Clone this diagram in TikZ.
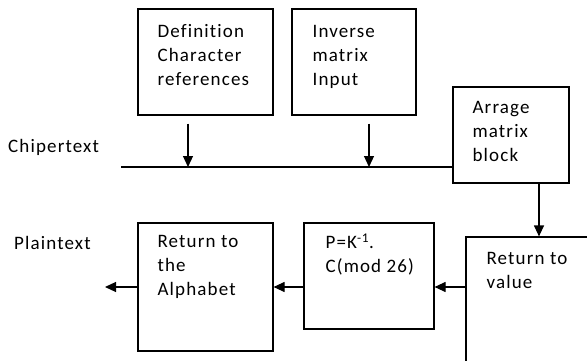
\documentclass[tikz,border=0pt]{standalone}
\usepackage{fontspec}
\setmainfont[LetterSpace=6, Ligatures=NoCommon]{Carlito}
\usetikzlibrary{positioning,calc,arrows.meta}

\tikzset{
	stage/.style={draw, rectangle, line width=1.2pt, inner sep=0pt},
	lbl/.style={inner sep=0pt, align=left, font=\fontsize{19}{24}\selectfont},
	flow/.style={line width=1.2pt, -{Triangle[length=11pt,width=10pt]}}
}

\begin{document}
\begin{tikzpicture}[x=1pt, y=-1pt]
	\clip (0,0) rectangle (587,361);
	% upper row
	\node[stage, minimum width=135pt, minimum height=106pt] (defn) at (205.5,62) {};
	\node[lbl, below right=16pt and 20pt of defn.north west] (defntxt) {Definition\\Character\\references};
	\node[stage, minimum width=124pt, minimum height=106pt] (inv) at (354,62) {};
	\node[lbl, below right=17pt and 21pt of inv.north west] (invtxt) {Inverse\\matrix\\Input};
	\node[stage, minimum width=116pt, minimum height=96pt] (arrange) at (511,135) {};
	\node[lbl, below right=15pt and 20pt of arrange.north west] (arrangetxt) {Arrage\\matrix\\block};
	\node[lbl, anchor=base west] (cipher) at (8,152) {Chipertext};

	% lower row
	\node[stage, minimum width=140pt, minimum height=140pt] (retv) at (536,307) {};
	\node[lbl, below right=16pt and 21pt of retv.north west] (retvtxt) {Return to\\value};
	\node[stage, minimum width=130pt, minimum height=106pt] (pk) at (369,276) {};
	\node[lbl, below right=11pt and 22pt of pk.north west] (pktxt) {P=K\textsuperscript{-1}.\\C(mod 26)};
	\node[stage, minimum width=135pt, minimum height=128pt] (alph) at (205.5,287) {};
	\node[lbl, below right=13pt and 20pt of alph.north west] (alphtxt) {Return to\\the\\Alphabet};
	\node[lbl, anchor=base west] (plain) at (14,249) {Plaintext};

	% cipher line and inputs
	\coordinate (lstart) at (121,167);
	\coordinate (c1) at (188,167);
	\coordinate (c2) at (369,167);
	\draw[line width=1.2pt] (lstart) -- (lstart -| arrange.west);
	\draw[flow] ($(defn.south -| c1)+(0,8)$) -- (c1);
	\draw[flow] ($(inv.south -| c2)+(0,8)$) -- (c2);

	% decryption chain
	\coordinate (drop) at ([xshift=28pt]arrange.south);
	\coordinate (out) at (105,287);
	\draw[flow] (drop) -- (drop |- retv.north);
	\draw[flow] (retv.west |- alph) -- (pk.east |- alph);
	\draw[flow] (pk.west |- alph) -- (alph.east);
	\draw[flow] (alph.west) -- (out);
\end{tikzpicture}
\end{document}
